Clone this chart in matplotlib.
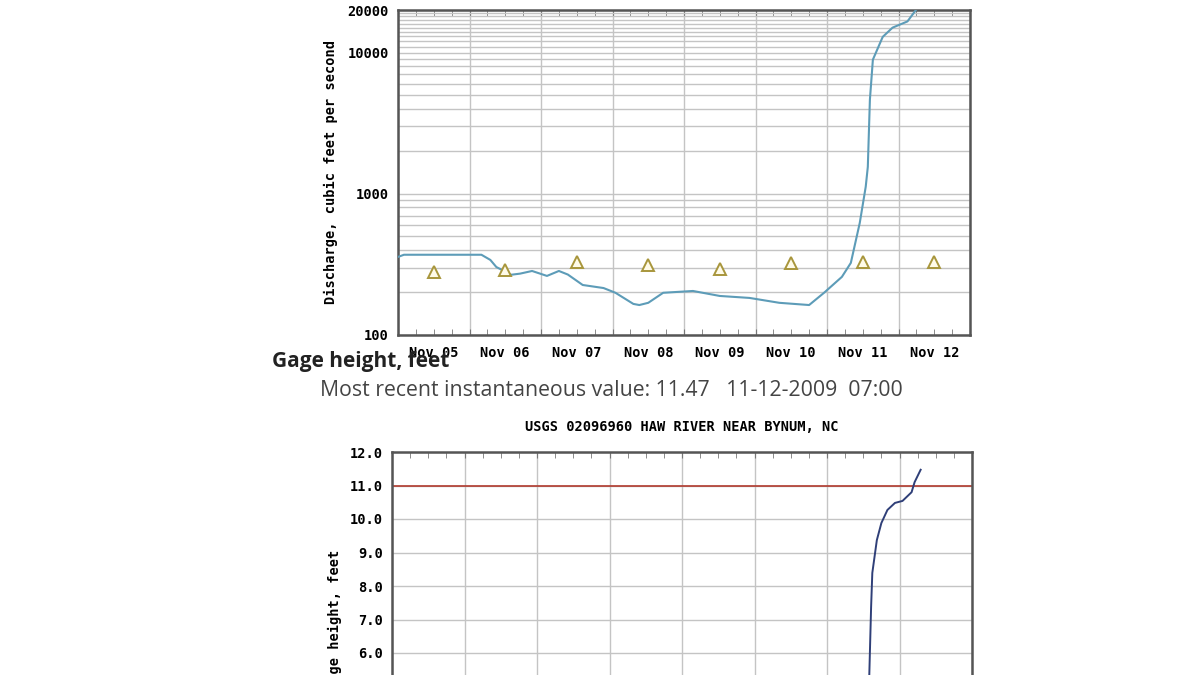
import matplotlib
matplotlib.use("Agg")
import matplotlib.pyplot as plt
from matplotlib.ticker import FixedLocator, FuncFormatter, MultipleLocator

# hours since Nov 05 00:00 (2009)
discharge_hours = [0, 2, 28, 31, 33, 38, 41, 45, 50, 54, 57, 62, 69, 73, 79, 81, 84, 89,
                   99, 108, 118, 128, 138, 143, 149, 152, 155, 157, 157.7, 158.4, 159.4,
                   162.7, 166, 171, 174, 175.5]
discharge_cfs = [357, 370, 370, 340, 303, 267, 272, 284, 262, 284, 268, 226, 215, 199, 166,
                 163, 169, 199, 205, 189, 183, 169, 163, 199, 258, 324, 622, 1122, 1550,
                 4640, 8900, 12900, 15000, 16600, 20200, 22000]

# daily median discharge (triangles), plotted at noon
median_hours = [12, 36, 60, 84, 108, 132, 156, 180]
median_cfs = [280, 289, 330, 314, 294, 324, 330, 330]

gage_hours = [0, 30, 80, 140, 150, 155, 157, 158, 158.6, 159, 160.5, 162, 164, 166.5, 169,
              172, 173, 175]
gage_ft = [3.3, 3.2, 2.9, 2.8, 3.0, 3.8, 4.8, 5.34, 7.37, 8.39, 9.37, 9.88, 10.27, 10.48,
           10.54, 10.8, 11.1, 11.47]
flood_stage_ft = 11.0

day_labels = ["Nov 05", "Nov 06", "Nov 07", "Nov 08", "Nov 09", "Nov 10", "Nov 11", "Nov 12"]

mono = "DejaVu Sans Mono"
fs = 9.8
grid_c = "#c4c4c4"
spine_c = "#555555"

fig = plt.figure(figsize=(12, 6.75), dpi=100)
fig.patch.set_facecolor("white")


def day_axis(ax, show_labels=True):
    ax.set_xlim(0, 24 * len(day_labels))
    ax.xaxis.set_major_locator(MultipleLocator(24))
    ax.xaxis.set_minor_locator(MultipleLocator(6))
    ax.xaxis.set_major_formatter(FuncFormatter(lambda v, p: ""))

    def lab(v, p):
        i = int(round(v)) // 24
        if int(round(v)) % 24 == 12 and 0 <= i < len(day_labels):
            return day_labels[i]
        return ""
    ax.xaxis.set_minor_formatter(FuncFormatter(lab))
    ax.tick_params(axis="x", which="both", direction="in", top=True, length=4,
                   color="#777777", pad=8, labelbottom=show_labels)
    ax.tick_params(axis="x", which="minor", labelsize=fs)
    for t in ax.xaxis.get_minorticklabels():
        t.set_fontfamily(mono)
        t.set_fontweight("bold")
    ax.grid(True, axis="x", which="major", color=grid_c, lw=1)
    for s in ax.spines.values():
        s.set_color(spine_c)
        s.set_linewidth(1.8)


# ---- discharge panel ----
ax1 = fig.add_axes([398 / 1200, 1 - 335 / 675, 572 / 1200, 325 / 675])
ax1.set_yscale("log")
ax1.set_ylim(100, 20000)
ax1.plot(discharge_hours, discharge_cfs, color="#5d9cb8", lw=1.5, zorder=3)
ax1.plot(median_hours, median_cfs, ls="none", marker="^", ms=8.5, mfc="#fffbe8",
         mec="#a8963c", mew=1.4, zorder=4)
ax1.yaxis.set_major_locator(FixedLocator([100, 1000, 10000, 20000]))
ax1.yaxis.set_major_formatter(FuncFormatter(lambda v, p: "%d" % v))
minor = [m * 10 ** e for e in (2, 3) for m in range(2, 10)] + list(range(11000, 20000, 1000))
ax1.yaxis.set_minor_locator(FixedLocator(minor))
ax1.yaxis.set_minor_formatter(FuncFormatter(lambda v, p: ""))
ax1.tick_params(axis="y", which="both", length=0, pad=6.5, labelsize=fs)
ax1.grid(True, axis="y", which="both", color=grid_c, lw=1)
day_axis(ax1)
for t in ax1.get_yticklabels():
    t.set_fontfamily(mono)
    t.set_fontweight("bold")
ax1.set_ylabel("Discharge, cubic feet per second", fontfamily=mono, fontweight="bold",
               fontsize=fs)
ax1.yaxis.set_label_coords(-0.105, 0.5)

# ---- headings between panels ----
fig.text(272 / 1200, 1 - 362 / 675, "Gage height, feet", fontfamily="Open Sans",
         fontweight="bold", fontsize=15, va="center", ha="left", color="#222222")
fig.text(320 / 1200, 1 - 391 / 675,
         "Most recent instantaneous value: 11.47   11-12-2009  07:00",
         fontfamily="Open Sans", fontsize=15.3, va="center", ha="left", color="#444444")

# ---- gage height panel ----
ax2 = fig.add_axes([392 / 1200, (675 - 787) / 675, 580 / 1200, 335 / 675])
ax2.set_ylim(2, 12)
ax2.axhline(flood_stage_ft, color="#b03a2e", lw=1.2, zorder=2)
ax2.plot(gage_hours, gage_ft, color="#2f3f78", lw=1.4, zorder=3)
ax2.yaxis.set_major_locator(MultipleLocator(1))
ax2.yaxis.set_major_formatter(FuncFormatter(lambda v, p: "%.1f" % v))
ax2.tick_params(axis="y", which="both", length=0, pad=6.5, labelsize=fs)
ax2.grid(True, axis="y", which="major", color=grid_c, lw=1)
day_axis(ax2, show_labels=False)
for t in ax2.get_yticklabels():
    t.set_fontfamily(mono)
    t.set_fontweight("bold")
ax2.set_ylabel("Gage height, feet", fontfamily=mono, fontweight="bold", fontsize=fs)
ax2.yaxis.set_label_coords(-0.086, 0.5)
ax2.set_title("USGS 02096960 HAW RIVER NEAR BYNUM, NC", fontfamily=mono,
              fontweight="bold", fontsize=fs, pad=15)

fig.savefig("out.png", dpi=100)
